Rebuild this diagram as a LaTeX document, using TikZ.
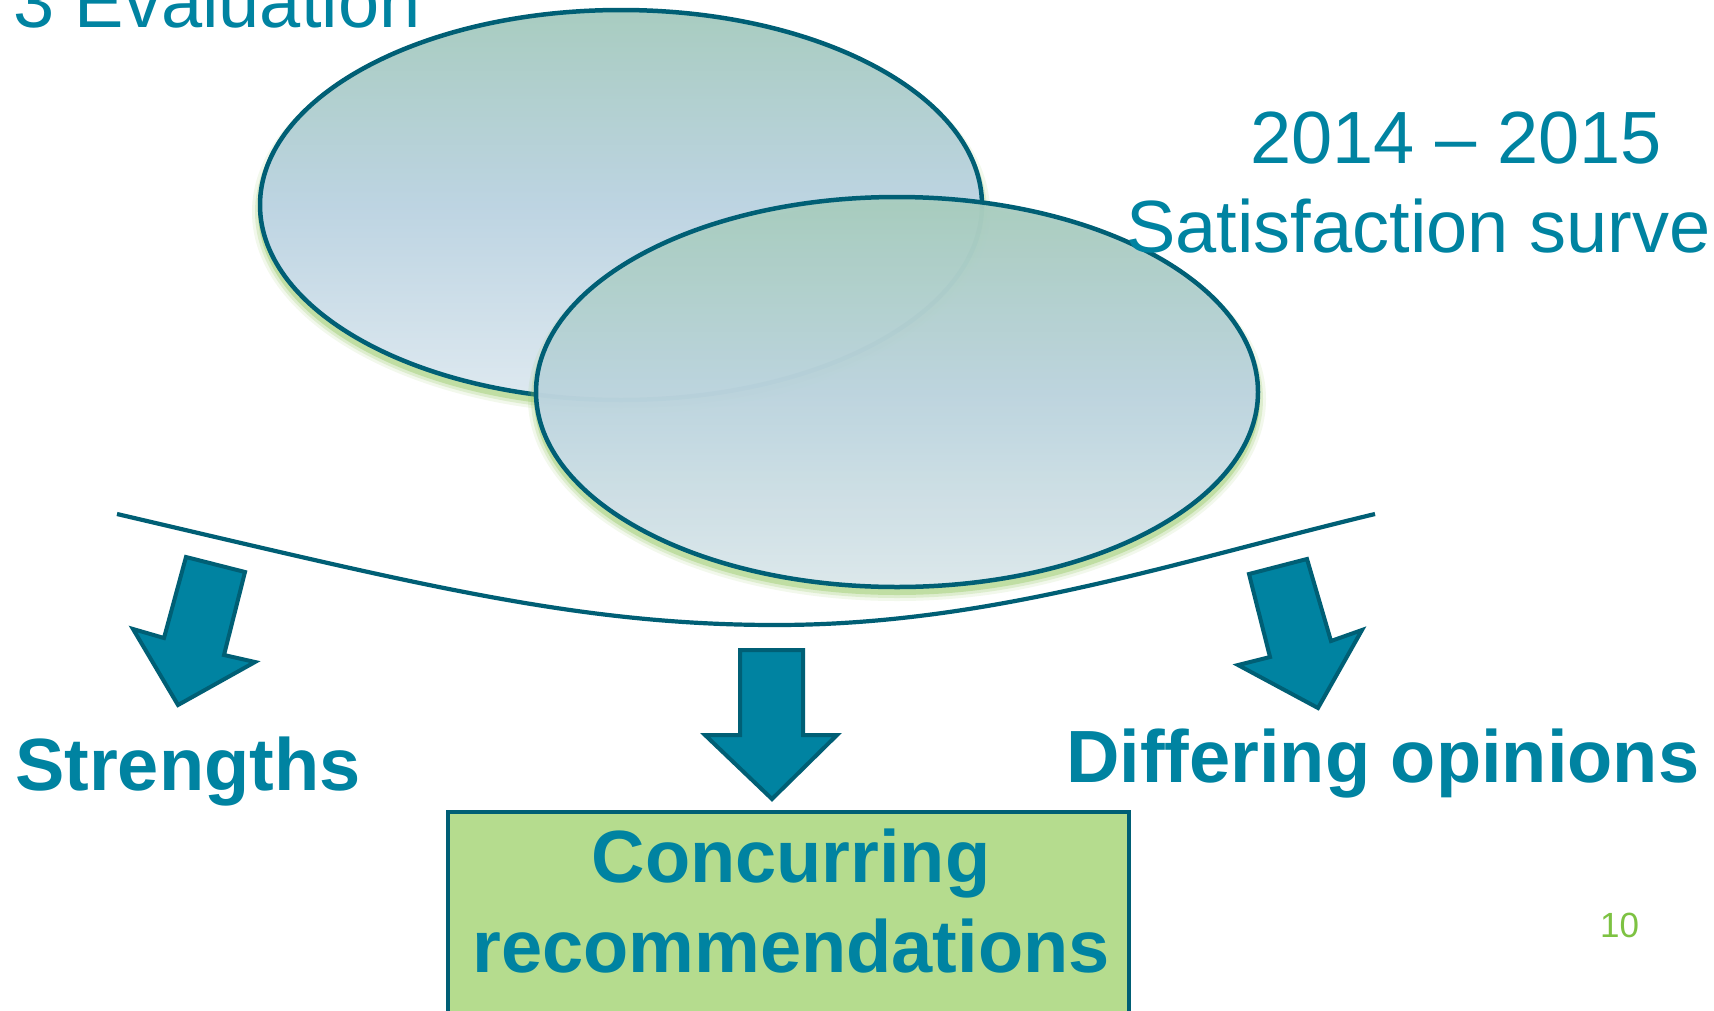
\documentclass[tikz,border=0pt]{standalone}
\usepackage{fontspec}
\setmainfont{Liberation Sans}
\usetikzlibrary{shapes.geometric}
\definecolor{tealtxt}{RGB}{0,131,161}
\definecolor{darkline}{RGB}{0,95,117}
\definecolor{boxfill}{RGB}{181,220,142}
\definecolor{pagegreen}{RGB}{125,194,66}
\definecolor{glowc}{RGB}{150,200,100}
\definecolor{topc}{RGB}{168,204,192}
\definecolor{midc}{RGB}{189,212,226}
\definecolor{botc}{RGB}{222,233,240}
\tikzset{
  blob/.style={ellipse, minimum width=722, minimum height=390, inner sep=0,
    draw=darkline, line width=4.5, top color=topc, bottom color=botc, middle color=midc},
  glowring/.style={fill=glowc, opacity=#1},
  fatarrow/.style={fill=tealtxt, draw=darkline, line width=4, line join=miter},
  regtxt/.style={text=tealtxt, inner sep=0, font=\fontsize{74}{88}\selectfont},
  boldtxt/.style={text=tealtxt, inner sep=0, font=\fontsize{74}{88}\selectfont\bfseries},
  recbox/.style={fill=boxfill, draw=darkline, line width=4, inner sep=0},
  sweep/.style={draw=darkline, line width=4.2}
}
\begin{document}
\begin{tikzpicture}[x=1pt,y=-1pt]
\useasboundingbox (0,0) rectangle (1714,1010);
\fill[white] (0,0) rectangle (1714,1010);

% glow of first ellipse
\coordinate (g1) at (621,212);
\fill[glowring=0.12] (g1) ellipse [x radius=369, y radius=202];
\fill[glowring=0.22] (g1) ellipse [x radius=366, y radius=199];
\fill[glowring=0.4] (g1) ellipse [x radius=363, y radius=196];
\node[blob] (e1) at (621,205) {};

% glow of second ellipse
\coordinate (g2) at (897,399);
\fill[glowring=0.12] (g2) ellipse [x radius=369, y radius=202];
\fill[glowring=0.22] (g2) ellipse [x radius=366, y radius=199];
\fill[glowring=0.4] (g2) ellipse [x radius=363, y radius=196];
\node[blob, fill opacity=0.94] (e2) at (897,392) {};

% sweeping curve
\coordinate (cl) at (117,514);
\coordinate (cb) at (776,625);
\coordinate (cr) at (1375,514);
\draw[sweep] (cl) .. controls (417,584) and (576,625) .. (cb)
  .. controls (990,625) and (1175,562) .. (cr);

% arrows
\draw[fatarrow] (186,557) -- (245,572) -- (224,655) -- (255,662) -- (178,705)
  -- (133,629) -- (164,638) -- cycle;
\draw[fatarrow] (740,650) -- (803,650) -- (803,735) -- (837,735) -- (772,799)
  -- (705,735) -- (740,735) -- cycle;
\draw[fatarrow] (1249,574) -- (1307,559) -- (1331,641) -- (1362,630) -- (1318,708)
  -- (1238,665) -- (1270,657) -- cycle;

% texts
\node[regtxt, anchor=base west] (t1) at (13,27) {3 Evaluation};
\node[regtxt, anchor=base west] (t2) at (1250,163) {2014 – 2015};
\node[regtxt, anchor=base west] (t3) at (1126,252) {Satisfaction surve};
\node[boldtxt, anchor=base west] (s) at (15,790) {Strengths};
\node[boldtxt, anchor=base west] (d) at (1066,782) {Differing opinions};

% box
\node[recbox, minimum width=681, minimum height=230, anchor=north west] (rec) at (446,810) {};
\node[boldtxt, anchor=base] (c1) at (791,882) {Concurring};
\node[boldtxt, anchor=base] (c2) at (791,972) {recommendations};

\node[text=pagegreen, inner sep=0, font=\fontsize{35}{42}\selectfont, anchor=base west] (pg) at (1600,937) {10};
\end{tikzpicture}
\end{document}
